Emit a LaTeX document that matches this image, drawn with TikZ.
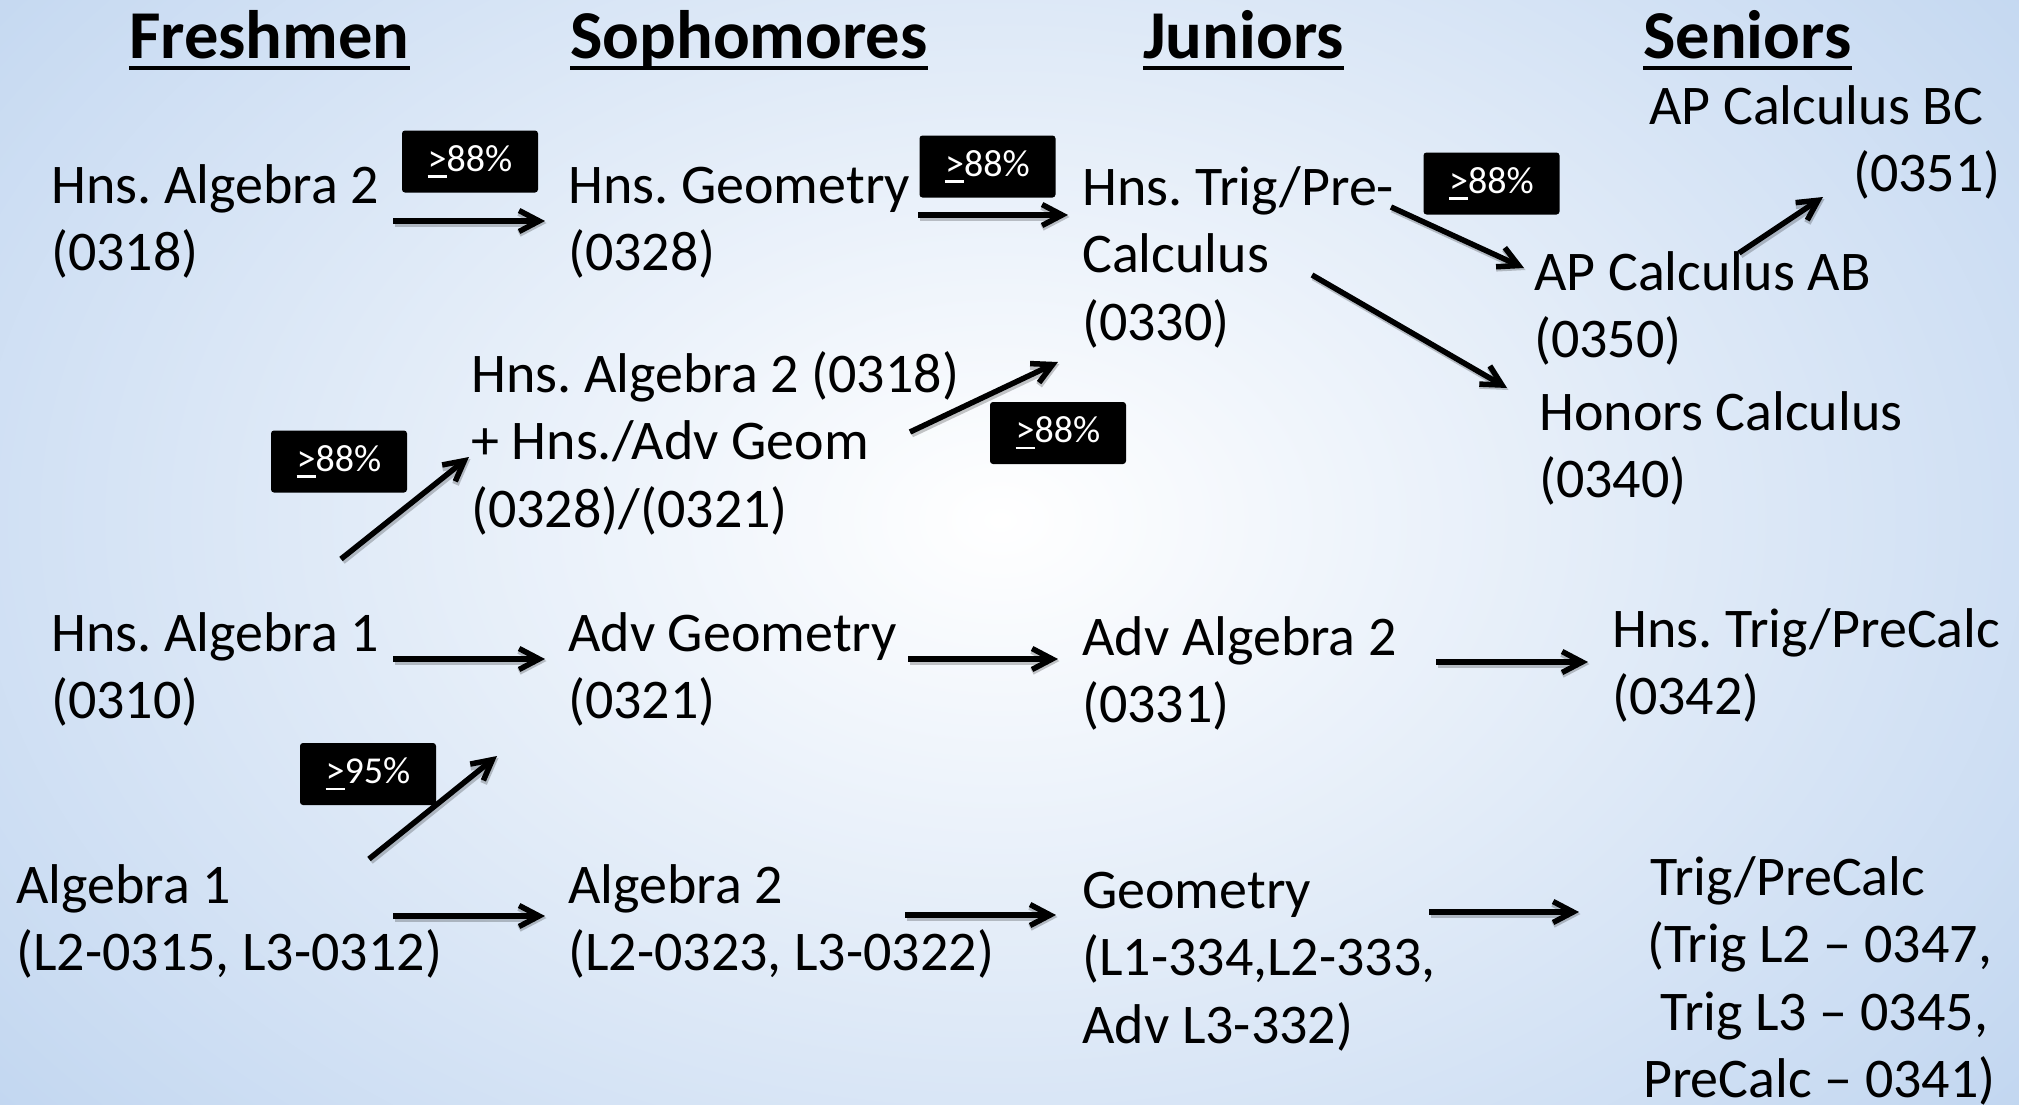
\documentclass[tikz,border=0pt]{standalone}
\usepackage{fontspec}
\setmainfont{Carlito}
\usetikzlibrary{arrows.meta}
\frenchspacing
\definecolor{bgout}{RGB}{160,192,232}
\newcommand\Lstack[1]{\vtop{\baselineskip=67.5bp\lineskiplimit=-200bp\lineskip=0bp\halign{##\hfil\cr#1\crcr}}}
\newcommand\myge{\makebox[0pt][l]{\rule[-0.17em]{0.5em}{0.06em}}>}
\tikzset{
  txt/.style={anchor=base west, inner sep=0pt, font=\fontsize{56bp}{67.5bp}\selectfont},
  head/.style={anchor=base west, inner sep=0pt, font=\fontsize{68.5bp}{80bp}\selectfont\bfseries},
  badge/.style={fill=black, text=white, rounded corners=3bp, minimum width=136bp, minimum height=62bp, inner sep=0pt, font=\fontsize{38bp}{40bp}\selectfont},
  arr/.style={line width=5.5bp, -{Straight Barb[length=20bp,width=21bp]}},
  shd/.style={line width=7bp, draw=black, opacity=0.22, -{Straight Barb[length=20bp,width=21bp]}},
  uline/.style={line width=3.5bp},
}
\newcommand\conn[2]{\draw[shd,transform canvas={shift={(1.5bp,-2bp)}}] (#1) -- (#2); \draw[arr] (#1) -- (#2);}
\begin{document}
\begin{tikzpicture}[x=1bp,y=-1bp]
\useasboundingbox (0,0) rectangle (2019,1104);
\begin{scope}
  \clip (0,0) rectangle (2019,1104);
  \shade[inner color=white, outer color=bgout] (1000,520) ellipse [x radius=2050, y radius=1450];
\end{scope}

% headings
\node[head] (fr) at (129,58) {Freshmen};
\node[head] (so) at (570,58) {Sophomores};
\node[head] (ju) at (1143,58) {Juniors};
\node[head] (se) at (1643,58) {Seniors};
\foreach \h in {fr,so,ju,se}{
  \draw[uline] ([yshift=-10bp]\h.base west) -- ([yshift=-10bp]\h.base east);
}

% course nodes
\node[txt] (ha2) at (51,203) {\Lstack{Hns. Algebra 2\cr(0318)}};
\node[txt] (hg) at (568,203) {\Lstack{Hns. Geometry\cr(0328)}};
\node[txt] (ht) at (1082,205) {\Lstack{Hns. Trig/Pre-\cr Calculus\cr(0330)}};
\node[txt] (bc) at (1649,124) {\Lstack{AP Calculus BC\cr\hspace*{204bp}(0351)}};
\node[txt] (ab) at (1534,290) {\Lstack{AP Calculus AB\cr(0350)}};
\node[txt] (hc) at (1539,430) {\Lstack{Honors Calculus\cr(0340)}};
\node[txt] (cb) at (471,392) {\Lstack{Hns. Algebra 2 (0318)\cr+ Hns./Adv Geom\cr(0328)/(0321)}};
\node[txt] (ha1) at (51,651) {\Lstack{Hns. Algebra 1\cr(0310)}};
\node[txt] (ag) at (568,651) {\Lstack{Adv Geometry\cr(0321)}};
\node[txt] (aa) at (1082,655) {\Lstack{Adv Algebra 2\cr(0331)}};
\node[txt] (htp) at (1612,647) {\Lstack{Hns. Trig/PreCalc\cr(0342)}};
\node[txt] (a1) at (16,903) {\Lstack{Algebra 1\cr(L2-0315, L3-0312)}};
\node[txt] (a2) at (568,903) {\Lstack{Algebra 2\cr(L2-0323, L3-0322)}};
\node[txt] (ge) at (1082,908) {\Lstack{Geometry\cr(L1-334,L2-333,\cr Adv L3-332)}};
\node[txt] (tp) at (1650,895) {\Lstack{Trig/PreCalc\cr\hspace*{-3bp}(Trig L2 – 0347,\cr\hspace*{10bp}Trig L3 – 0345,\cr\hspace*{-7bp}PreCalc – 0341)}};

% badges
\node[badge] (b1) at (470,161.5) {\myge88\%};
\node[badge] (b2) at (987.5,166.5) {\myge88\%};
\node[badge] (b3) at (1491.5,183.5) {\myge88\%};
\node[badge] (b4) at (1058,433) {\myge88\%};
\node[badge] (b5) at (339,461.5) {\myge88\%};
\node[badge] (b6) at (368,774) {\myge95\%};

% arrow end points
\coordinate (p1s) at (393,221);  \coordinate (p1e) at (545,221);
\coordinate (p2s) at (918,215);  \coordinate (p2e) at (1068,215);
\coordinate (p3s) at (1391,207); \coordinate (p3e) at (1524,268);
\coordinate (p4s) at (1739,253); \coordinate (p4e) at (1823,197);
\coordinate (p5s) at (1312,275); \coordinate (p5e) at (1507,388);
\coordinate (p6s) at (910,432);  \coordinate (p6e) at (1058,362);
\coordinate (p7s) at (341,559);  \coordinate (p7e) at (469,457);
\coordinate (p8s) at (393,659);  \coordinate (p8e) at (545,659);
\coordinate (p9s) at (908,659);  \coordinate (p9e) at (1058,659);
\coordinate (p10s) at (1436,662); \coordinate (p10e) at (1588,662);
\coordinate (p11s) at (369,859); \coordinate (p11e) at (497,756);
\coordinate (p12s) at (393,916); \coordinate (p12e) at (545,916);
\coordinate (p13s) at (905,915); \coordinate (p13e) at (1056,915);
\coordinate (p14s) at (1429,912); \coordinate (p14e) at (1579,912);

\foreach \i in {1,...,14}{\conn{p\i s}{p\i e}}
\end{tikzpicture}
\end{document}
